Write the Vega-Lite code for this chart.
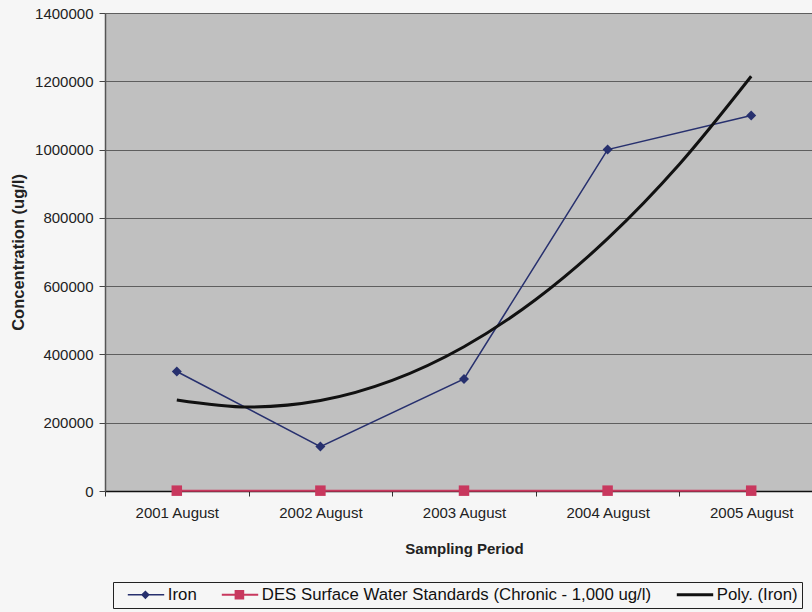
{
  "$schema": "https://vega.github.io/schema/vega-lite/v6.json",
  "width": 707,
  "height": 478,
  "autosize": {"type": "none"},
  "padding": {"left": 105, "top": 13, "right": 0, "bottom": 121},
  "background": "#f6f6f6",
  "config": {
    "view": {"fill": "#c0c0c0", "stroke": null},
    "font": "Liberation Sans"
  },
  "datasets": {
    "iron": [
      {"period": "2001 August", "conc": 350000},
      {"period": "2002 August", "conc": 130000},
      {"period": "2003 August", "conc": 328000},
      {"period": "2004 August", "conc": 1000000},
      {"period": "2005 August", "conc": 1100000}
    ],
    "des": [
      {"period": "2001 August", "conc": 1000},
      {"period": "2002 August", "conc": 1000},
      {"period": "2003 August", "conc": 1000},
      {"period": "2004 August", "conc": 1000},
      {"period": "2005 August", "conc": 1000}
    ],
    "trend": [
      {"t": 1, "conc": 266700},
      {"t": 1.5, "conc": 246000},
      {"t": 2, "conc": 265000},
      {"t": 2.5, "conc": 323900},
      {"t": 3, "conc": 422500},
      {"t": 3.5, "conc": 560900},
      {"t": 4, "conc": 739000},
      {"t": 4.5, "conc": 957000},
      {"t": 5, "conc": 1214700}
    ],
    "legend": [
      {"series": "Iron"},
      {"series": "DES Surface Water Standards (Chronic - 1,000 ug/l)"},
      {"series": "Poly. (Iron)"}
    ]
  },
  "encoding": {
    "y": {
      "field": "conc",
      "type": "quantitative",
      "scale": {"domain": [0, 1400000], "nice": false, "zero": true},
      "axis": {
        "values": [0, 200000, 400000, 600000, 800000, 1000000, 1200000, 1400000],
        "format": "d",
        "grid": true,
        "gridColor": "#5e5e5e",
        "gridWidth": 1,
        "gridOpacity": 1,
        "domainColor": "#555555",
        "domainWidth": 1.5,
        "tickColor": "#444444",
        "tickSize": 6,
        "labelPadding": 6,
        "labelFontSize": 15,
        "labelColor": "#222222",
        "labelFont": "Liberation Sans",
        "title": "Concentration (ug/l)",
        "titleFont": "Liberation Sans",
        "titleFontSize": 16.5,
        "titleFontWeight": "bold",
        "titleColor": "#222222",
        "titleAngle": 270,
        "titleAlign": "center",
        "titleBaseline": "middle",
        "titleX": -87,
        "titleY": 239
      }
    }
  },
  "layer": [
    {
      "encoding": {
        "x": {
          "field": "period",
          "type": "nominal",
          "sort": null,
          "scale": {"type": "band", "paddingInner": 0, "paddingOuter": 0, "range": [0, 718]},
          "axis": {
            "tickBand": "extent",
            "labelAngle": 0,
            "domainColor": "#111111",
            "domainWidth": 1.5,
            "tickColor": "#333333",
            "tickSize": 5,
            "labelPadding": 9,
            "labelFontSize": 15,
            "labelColor": "#222222",
            "labelFont": "Liberation Sans",
            "title": "Sampling Period",
            "titleFont": "Liberation Sans",
            "titleFontSize": 15,
            "titleFontWeight": "bold",
            "titleColor": "#222222",
            "titleBaseline": "middle",
            "titleY": 57
          }
        }
      },
      "layer": [
        {
          "data": {"name": "des"},
          "mark": {"type": "line", "color": "#c8385e", "strokeWidth": 2}
        },
        {
          "data": {"name": "des"},
          "mark": {"type": "point", "shape": "square", "filled": true, "color": "#c8385e", "size": 110, "opacity": 1}
        },
        {
          "data": {"name": "iron"},
          "mark": {"type": "line", "color": "#27306e", "strokeWidth": 1.5}
        },
        {
          "data": {"name": "iron"},
          "mark": {"type": "point", "shape": "diamond", "filled": true, "color": "#27306e", "size": 100, "opacity": 1}
        }
      ]
    },
    {
      "data": {"name": "trend"},
      "mark": {"type": "line", "color": "#111111", "strokeWidth": 3, "interpolate": "monotone"},
      "encoding": {
        "x": {
          "field": "t",
          "type": "quantitative",
          "scale": {"domain": [0.5, 5.5], "nice": false, "zero": false, "range": [0, 718]},
          "axis": null
        }
      }
    },
    {
      "data": {"name": "legend"},
      "transform": [{"filter": "false"}],
      "mark": {"type": "point", "filled": true, "opacity": 1},
      "encoding": {
        "color": {
          "field": "series",
          "type": "nominal",
          "scale": {
            "domain": ["Iron", "DES Surface Water Standards (Chronic - 1,000 ug/l)", "Poly. (Iron)"],
            "range": ["#27306e", "#c8385e", "#111111"]
          },
          "legend": {
            "orient": "none",
            "legendX": 8,
            "legendY": 569,
            "direction": "horizontal",
            "columns": 3,
            "title": null,
            "strokeColor": "#222222",
            "fillColor": "#f6f6f6",
            "padding": 4,
            "symbolSize": 256,
            "symbolOffset": 20,
            "symbolStrokeWidth": 0,
            "labelOffset": 14,
            "columnPadding": 14,
            "labelFontSize": 16.8,
            "labelFont": "Liberation Sans",
            "labelColor": "#111111",
            "labelLimit": 600
          }
        },
        "shape": {
          "field": "series",
          "type": "nominal",
          "scale": {
            "domain": ["Iron", "DES Surface Water Standards (Chronic - 1,000 ug/l)", "Poly. (Iron)"],
            "range": [
              "M-2.2,-0.1H2.35V0.1H-2.2Z M0,-0.55L0.55,0L0,0.55L-0.55,0Z",
              "M-2.2,-0.12H2.35V0.12H-2.2Z M-0.6,-0.6H0.6V0.6H-0.6Z",
              "M-2.2,-0.19H2.35V0.19H-2.2Z"
            ]
          },
          "legend": {
            "orient": "none",
            "legendX": 8,
            "legendY": 569,
            "direction": "horizontal",
            "columns": 3,
            "title": null,
            "strokeColor": "#222222",
            "fillColor": "#f6f6f6",
            "padding": 4,
            "symbolSize": 256,
            "symbolOffset": 20,
            "symbolStrokeWidth": 0,
            "labelOffset": 14,
            "columnPadding": 14,
            "labelFontSize": 16.8,
            "labelFont": "Liberation Sans",
            "labelColor": "#111111",
            "labelLimit": 600
          }
        }
      }
    }
  ],
  "resolve": {"scale": {"x": "independent"}}
}
